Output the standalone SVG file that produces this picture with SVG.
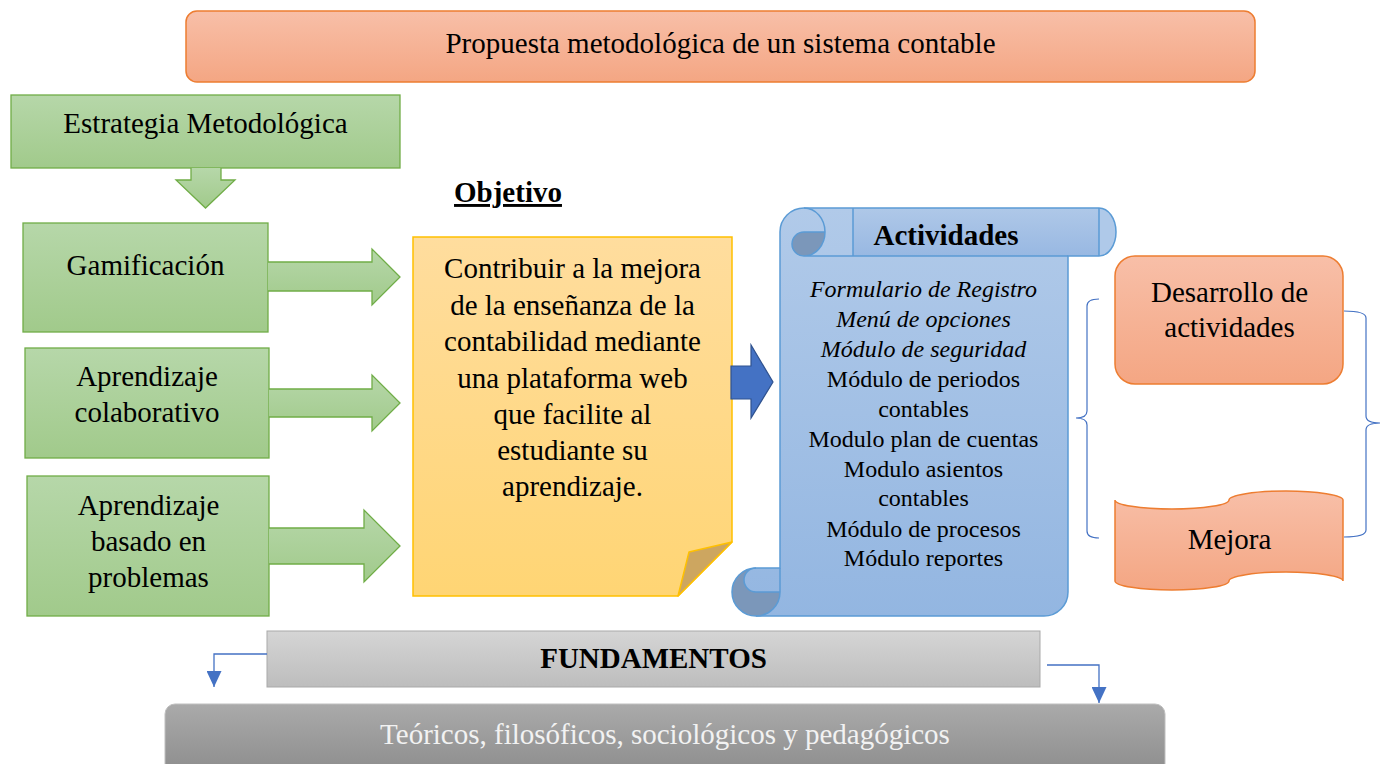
<svg xmlns="http://www.w3.org/2000/svg" width="1381" height="764" viewBox="0 0 1381 764">
<defs>
<linearGradient id="gOrange" x1="0" y1="0" x2="0" y2="1"><stop offset="0" stop-color="#f8bfa8"/><stop offset="1" stop-color="#f4a683"/></linearGradient>
<linearGradient id="gGreen" x1="0" y1="0" x2="0" y2="1"><stop offset="0" stop-color="#b6d7a9"/><stop offset="1" stop-color="#a1ca8b"/></linearGradient>
<linearGradient id="gYellow" x1="0" y1="0" x2="0" y2="1"><stop offset="0" stop-color="#ffdd9e"/><stop offset="1" stop-color="#ffd574"/></linearGradient>
<linearGradient id="gBlue" x1="0" y1="0" x2="0" y2="1"><stop offset="0" stop-color="#b1cae9"/><stop offset="1" stop-color="#93b6e1"/></linearGradient>
<linearGradient id="gBlueBar" x1="0" y1="0" x2="0" y2="1"><stop offset="0" stop-color="#afc8e8"/><stop offset="1" stop-color="#98b8e2"/></linearGradient>
<linearGradient id="gGrayL" x1="0" y1="0" x2="0" y2="1"><stop offset="0" stop-color="#d5d5d5"/><stop offset="1" stop-color="#bdbdbd"/></linearGradient>
<linearGradient id="gGrayD" x1="0" y1="0" x2="0" y2="1"><stop offset="0" stop-color="#aaaaaa"/><stop offset="1" stop-color="#8c8c8c"/></linearGradient>
<marker id="ah" viewBox="0 0 16 15" refX="16" refY="7.5" markerWidth="16" markerHeight="15" markerUnits="userSpaceOnUse" orient="auto"><path d="M0,0 L16,7.5 L0,15 Z" fill="#4472c4"/></marker>
</defs>
<style>
text{font-family:"Liberation Serif","Times New Roman",serif;font-size:29px;fill:#000;text-anchor:middle}
.b{font-weight:bold}
.sm{font-size:24px}
.it{font-style:italic}
.orange{fill:url(#gOrange);stroke:#ed7d31;stroke-width:1.5}
.green{fill:url(#gGreen);stroke:#70ad47;stroke-width:1.3}
.blueln{fill:none;stroke:#5b9bd5;stroke-width:1.5}
.curl{fill:#7b97ba;stroke:none}
.conn{fill:none;stroke:#4472c4;stroke-width:1.3}
.brace{fill:none;stroke:#4472c4;stroke-width:1.2}
</style>
<rect width="1381" height="764" fill="#ffffff"/>

<g id="title">
<rect x="186" y="11" width="1069" height="71" rx="11" class="orange"/>
<text x="720.5" y="53">Propuesta metodológica de un sistema contable</text>
</g>

<g id="estrategia">
<rect x="11" y="95" width="389" height="73" class="green"/>
<text x="205.5" y="133">Estrategia Metodológica</text>
<path d="M191,168 V180 H176 L205.5,208 L235,180 H221 V168" class="green"/>
</g>

<g id="gamificacion">
<rect x="23" y="223" width="245" height="109" class="green"/>
<text x="145.5" y="275">Gamificación</text>
<path d="M268,262 H372 V249 L400,277 L372,305 V291 H268" class="green"/>
</g>

<g id="colaborativo">
<rect x="25" y="348" width="244" height="110" class="green"/>
<text x="147" y="386">Aprendizaje</text>
<text x="147" y="422">colaborativo</text>
<path d="M269,389 H372 V375 L400,403 L372,431 V417 H269" class="green"/>
</g>

<g id="problemas">
<rect x="27" y="476" width="242" height="140" class="green"/>
<text x="148.5" y="515">Aprendizaje</text>
<text x="148.5" y="551">basado en</text>
<text x="148.5" y="587">problemas</text>
<path d="M269,528 H364 V510 L400,546 L364,582 V564 H269" class="green"/>
</g>

<g id="objetivo">
<text x="508" y="202" class="b" text-decoration="underline">Objetivo</text>
<path d="M413,237 H732 V542 L678,596 H413 Z" fill="url(#gYellow)" stroke="#ffc000" stroke-width="1.5"/>
<path d="M732,542 L689,552 L678,596 Z" fill="#cda660" stroke="#ffc000" stroke-width="1.5" stroke-linejoin="round"/>
<text x="572.5" y="278">Contribuir a la mejora</text>
<text x="572.5" y="315">de la enseñanza de la</text>
<text x="572.5" y="351">contabilidad mediante</text>
<text x="572.5" y="388">una plataforma web</text>
<text x="572.5" y="424">que facilite al</text>
<text x="572.5" y="460">estudiante su</text>
<text x="572.5" y="496">aprendizaje.</text>
<path d="M731,366 H751 V345 L773,382 L751,418 V399 H731 Z" fill="#4472c4" stroke="#2f528f" stroke-width="1.2"/>
</g>

<g id="actividades">
<path d="M804,208 H1099 A17,24 0 0 1 1099,256 H1068 V592 A24,24 0 0 1 1044,616 H756 A24,24 0 0 1 756,568 H780 V232 A24,24 0 0 1 804,208 Z" fill="url(#gBlue)" stroke="none"/>
<path d="M853,208 H1099 V256 H853 Z" fill="url(#gBlueBar)"/>
<path d="M1099,208 A17,24 0 0 1 1099,256 Z" fill="#afc9e9"/>
<path d="M756,568 A24,24 0 1 0 780,592 H756 A12,12 0 0 1 756,568 Z" class="curl"/>
<path d="M825,232 A21,24 0 0 1 804,256 A12,12 0 0 1 804,232 Z" class="curl"/>
<path d="M804,208 H1099 A17,24 0 0 1 1099,256 H1068 V592 A24,24 0 0 1 1044,616 H756 A24,24 0 0 1 756,568 H780 V232 A24,24 0 0 1 804,208 Z" class="blueln"/>
<path d="M804,208 A21,24 0 0 1 804,256 A12,12 0 0 1 804,232 H825 M804,256 H1068 M853,208 V256 M1099,208 V256 M780,568 V592 A24,24 0 0 1 756,616 M780,592 H756 A12,12 0 0 1 756,568" class="blueln"/>
<text x="946" y="245" class="b">Actividades</text>
<text x="923.5" y="297" class="sm it">Formulario de Registro</text>
<text x="923.5" y="327" class="sm it">Menú de opciones</text>
<text x="923.5" y="357" class="sm it">Módulo de seguridad</text>
<text x="923.5" y="387" class="sm">Módulo de periodos</text>
<text x="923.5" y="417" class="sm">contables</text>
<text x="923.5" y="447" class="sm">Modulo plan de cuentas</text>
<text x="923.5" y="477" class="sm">Modulo asientos</text>
<text x="923.5" y="506" class="sm">contables</text>
<text x="923.5" y="537" class="sm">Módulo de procesos</text>
<text x="923.5" y="566" class="sm">Módulo reportes</text>
</g>

<g id="desarrollo">
<rect x="1115" y="256" width="228" height="128" rx="20" class="orange"/>
<text x="1229.5" y="302">Desarrollo de</text>
<text x="1229.5" y="337">actividades</text>
</g>

<g id="mejora">
<path d="M1115,500 A57,9 0 0 0 1229,500 A57,9 0 0 1 1343,500 L1343,581 A57,9 0 0 0 1229,581 A57,9 0 0 1 1115,581 Z" class="orange"/>
<text x="1229.5" y="549">Mejora</text>
</g>

<g id="fundamentos">
<rect x="267" y="631" width="773" height="56" fill="url(#gGrayL)" stroke="#a9a9a9" stroke-width="1"/>
<text x="653.5" y="668" class="b">FUNDAMENTOS</text>
</g>

<g id="teoricos">
<rect x="165" y="704" width="1000" height="72" rx="10" fill="url(#gGrayD)" stroke="#bfbfbf" stroke-width="1"/>
<text x="665" y="744" style="fill:#f2f2f2">Teóricos, filosóficos, sociológicos y pedagógicos</text>
</g>

<g id="connectors">
<path d="M1099,299 Q1087,299 1087,306 L1087,411 Q1087,418 1076,418 Q1087,418 1087,425 L1087,531 Q1087,538 1099,538" class="brace"/>
<path d="M1344,311 Q1366,311 1366,318 L1366,416 Q1366,423 1380,423 Q1366,423 1366,430 L1366,530 Q1366,537 1344,537" class="brace"/>
<path d="M267,654 H214 V687" class="conn" marker-end="url(#ah)"/>
<path d="M1047,665 H1099 V703" class="conn" marker-end="url(#ah)"/>
</g>
</svg>
